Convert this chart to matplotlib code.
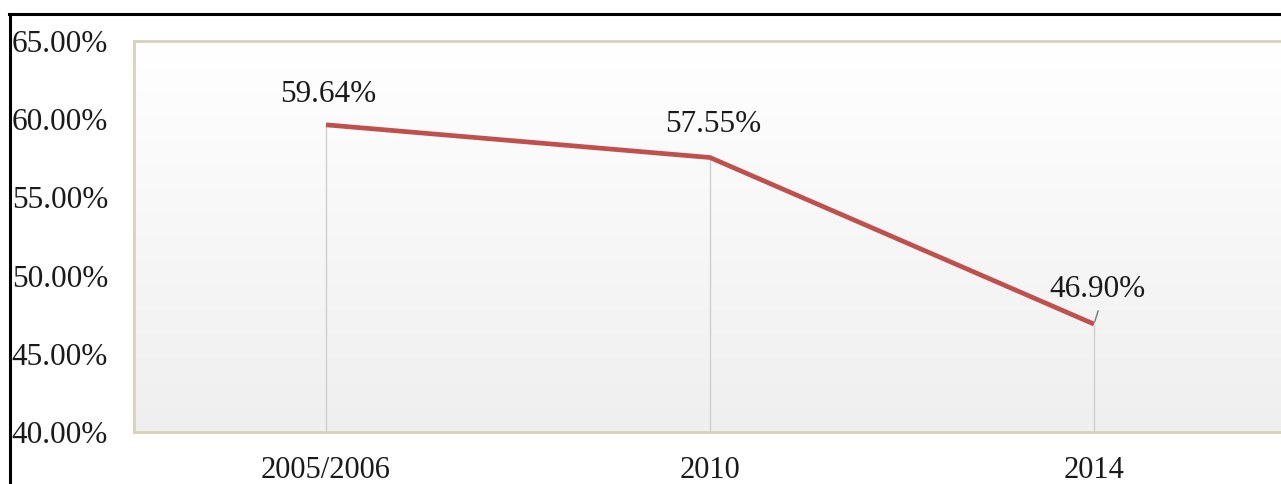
import matplotlib
matplotlib.use("Agg")
import matplotlib.pyplot as plt
import numpy as np
from matplotlib.lines import Line2D

plt.rcParams["font.family"] = ["Liberation Serif", "DejaVu Serif"]

# data

years = ["2005/2006", "2010", "2014"]
share = [59.64, 57.55, 46.90]
y_ticks = [40, 45, 50, 55, 60, 65]

LINE_COLOR = "#c0504d"
FRAME_COLOR = "#d6d2bb"
TEXT_SIZE = 22.5

fig = plt.figure(figsize=(12.81, 4.84), dpi=100)
ax = fig.add_axes([134 / 1281, 52 / 484, 1152 / 1281, 391 / 484])

# soft vertical gradient behind the plot
grad = np.linspace(1.0, 0.0, 256).reshape(-1, 1)
ax.imshow(grad, extent=[0, 1, 0, 1], transform=ax.transAxes, aspect="auto",
          cmap=matplotlib.colors.LinearSegmentedColormap.from_list(
              "bg", ["#efefef", "#ffffff"]), zorder=0)

x = np.arange(len(years))
ax.vlines(x, 40, share, color="#cfcfcf", lw=1.0, zorder=1)
ax.plot(x, share, color=LINE_COLOR, lw=3.4, solid_capstyle="butt", zorder=3)

offsets = [(2, 30), (3, 33), (3, 35)]
for xi, v, (dx, dy) in zip(x, share, offsets):
    ax.annotate("{:.2f}%".format(v), (xi, v), xytext=(dx, dy),
                textcoords="offset pixels", ha="center", va="center",
                fontsize=TEXT_SIZE, color="#1a1a1a", zorder=4)
# small leader for the last label
ax.annotate("", (x[-1], share[-1]), xytext=(5, 16), textcoords="offset pixels",
            arrowprops=dict(arrowstyle="-", color="#777777", lw=1.0))

ax.set_xlim(-0.5, 2.5)
ax.set_ylim(40, 65)
ax.set_xticks(x)
ax.set_xticklabels(years)
ax.set_yticks(y_ticks)
ax.set_yticklabels(["{:.2f}%".format(t) for t in y_ticks])
for lab in ax.get_yticklabels():
    lab.set_ha("left")
ax.tick_params(axis="y", length=0, pad=88, labelsize=TEXT_SIZE, labelcolor="#1a1a1a")
ax.tick_params(axis="x", length=0, pad=17, labelsize=22, labelcolor="#1a1a1a")

for side in ["left", "bottom", "top", "right"]:
    ax.spines[side].set_color(FRAME_COLOR)
    ax.spines[side].set_linewidth(2.0)

# black outer frame from the original screenshot
fig.add_artist(Line2D([9.5 / 1281, 9.5 / 1281], [0, 1 - 14 / 484],
                      transform=fig.transFigure, color="black", lw=2.2))
fig.add_artist(Line2D([9 / 1281, 1], [1 - 14 / 484, 1 - 14 / 484],
                      transform=fig.transFigure, color="black", lw=2.2))

fig.savefig("out.png", dpi=100)
